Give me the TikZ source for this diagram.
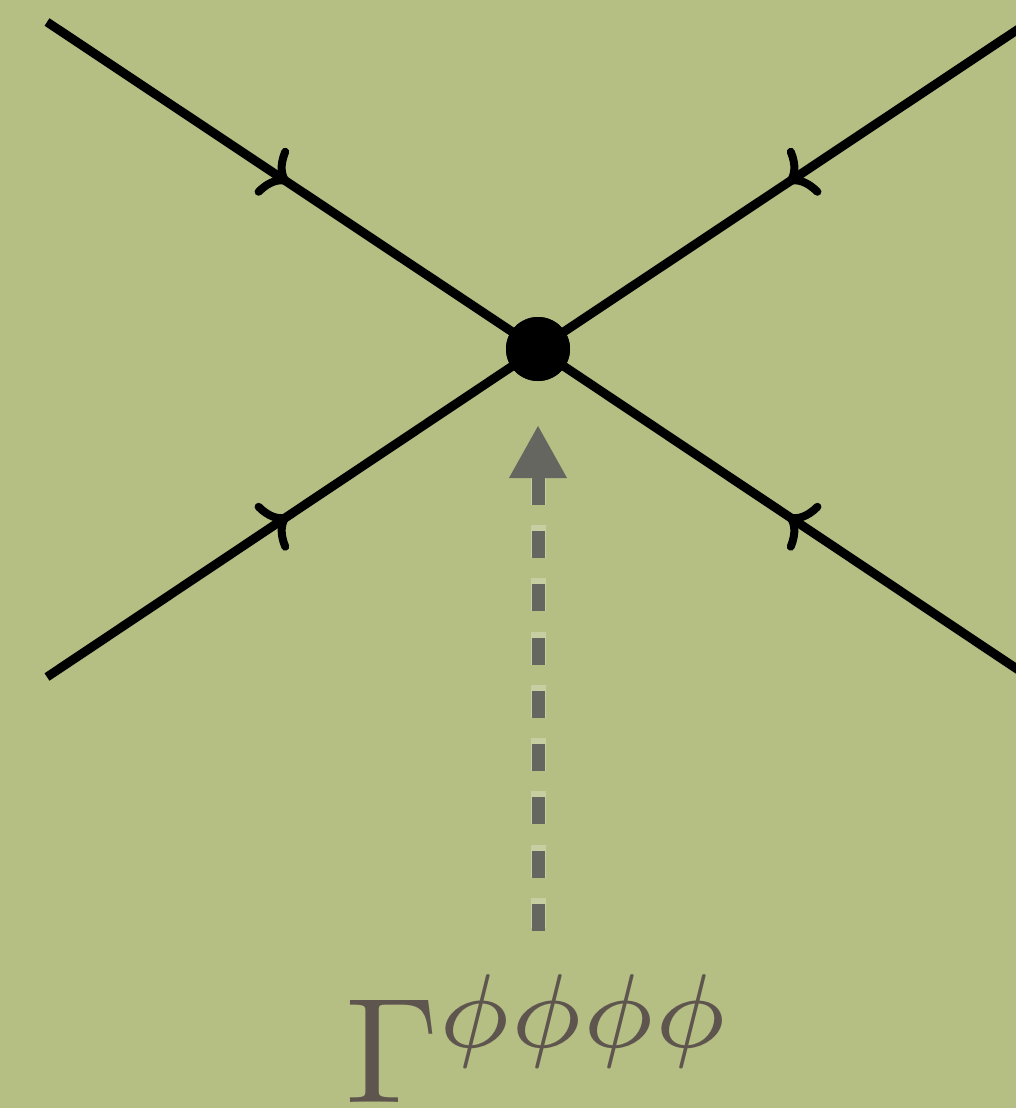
\documentclass[tikz,border=0pt]{standalone}
\usetikzlibrary{arrows.meta,decorations.markings}
\definecolor{bg}{RGB}{181,191,132}
\definecolor{darrow}{RGB}{102,102,96}
\definecolor{txt}{RGB}{94,85,79}
\tikzset{
  leg/.style={line width=9pt, draw=black, postaction={decorate},
    decoration={markings, mark=at position 0.492 with {\arrow[line width=8pt]{Computer Modern Rightarrow[length=24pt,width=56pt]}}}},
  vertex/.style={circle, fill=black, minimum size=64pt, inner sep=0pt},
  glow/.style={line width=15pt, draw=white, opacity=0.25, dash pattern=on 33pt off 20.3pt, dash phase=3pt},
  dasharrow/.style={line width=13pt, draw=darrow, dash pattern=on 27pt off 26.3pt,
    -{Triangle[length=53pt,width=54pt,fill=darrow]}},
}
\begin{document}
\begin{tikzpicture}[x=1pt,y=-1pt]
\useasboundingbox (0,0) rectangle (1016,1108);
\fill[bg] (0,0) rectangle (1016,1108);
\begin{scope}
\clip (0,0) rectangle (1016,1108);
\node[vertex] (c) at (538,349) {};
\coordinate (tl) at (47,22);
\coordinate (tr) at (1029,22);
\coordinate (bl) at (47,677);
\coordinate (br) at (1029,677);
\draw[leg] (tl) -- (c.center);
\draw[leg] (tr) -- (c.center);
\draw[leg] (bl) -- (c.center);
\draw[leg] (br) -- (c.center);
\node[vertex] at (c) {};
\coordinate (s) at (538,931);
\coordinate (t) at (538,425);
\draw[glow] ([yshift=3pt]s) -- (538,478);
\draw[dasharrow] (s) -- (t);
\node[anchor=base, text=txt, inner sep=0pt] (lab) at (540,1102) {\scalebox{15}{$\Gamma^{\phi\phi\phi\phi}$}};
\end{scope}
\end{tikzpicture}
\end{document}
